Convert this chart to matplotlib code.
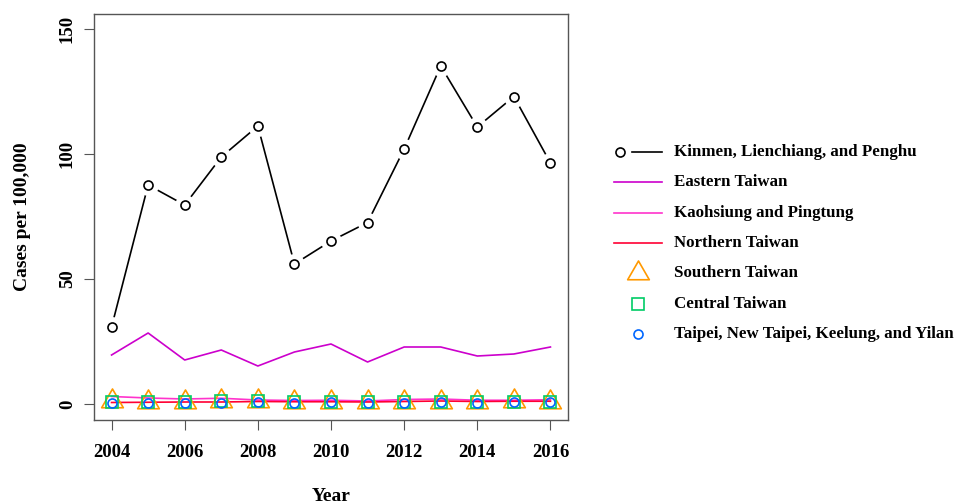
import matplotlib
matplotlib.use("Agg")
import matplotlib.pyplot as plt
from matplotlib.lines import Line2D
from matplotlib.path import Path

plt.rcParams['font.family'] = ['Liberation Serif', 'DejaVu Serif']
plt.rcParams['font.weight'] = 'bold'

years = list(range(2004, 2017))

kinmen = [30.8, 87.6, 79.6, 98.8, 111.2, 56.0, 65.2, 72.6, 102.0, 135.2, 110.8, 123.0, 96.4]
eastern = [19.6, 28.4, 17.6, 21.6, 15.2, 20.8, 24.0, 16.8, 22.8, 22.8, 19.2, 20.0, 22.8]
kaohsiung = [3.0, 2.4, 2.0, 2.3, 1.6, 1.4, 1.5, 1.2, 1.8, 2.0, 1.5, 1.5, 1.7]
northern = [0.6, 0.7, 0.8, 0.8, 1.0, 0.9, 0.9, 0.8, 1.0, 1.2, 1.0, 1.1, 1.1]
southern = [1.2, 0.9, 1.0, 1.2, 1.3, 0.8, 1.0, 0.8, 0.9, 1.0, 0.8, 1.2, 0.9]
central = [1.0, 0.9, 1.0, 1.1, 1.2, 0.9, 0.8, 0.7, 1.0, 0.9, 0.8, 1.0, 0.9]
taipei = [0.4, 0.5, 0.6, 0.6, 0.9, 0.6, 0.7, 0.4, 0.6, 0.8, 0.6, 1.0, 0.7]

labels = ["Kinmen, Lienchiang, and Penghu", "Eastern Taiwan", "Kaohsiung and Pingtung",
          "Northern Taiwan", "Southern Taiwan", "Central Taiwan",
          "Taipei, New Taipei, Keelung, and Yilan"]
colors = ["black", "#CC00CC", "#FF33CC", "#FF0033", "#FF9900", "#00CC66", "#0066FF"]

# triangle centred on its centroid, like R's pch = 2
tri = Path([(0, 1), (-0.866, -0.5), (0.866, -0.5), (0, 1)],
           [Path.MOVETO, Path.LINETO, Path.LINETO, Path.CLOSEPOLY])

W, H = 957, 504
fig = plt.figure(figsize=(W / 100, H / 100), dpi=100)
ax = fig.add_axes([94 / W, 1 - 420 / H, 474 / W, 406 / H])

# type="b" style: line broken around each point
ax.plot(years, kinmen, color=colors[0], lw=1.2, zorder=2)
ax.plot(years, kinmen, ls='none', marker='o', ms=15, mfc='white', mec='none', zorder=3)
ax.plot(years, kinmen, ls='none', marker='o', ms=6.5, mfc='none', mec=colors[0], mew=1.2, zorder=4)

ax.plot(years, eastern, color=colors[1], lw=1.2)
ax.plot(years, kaohsiung, color=colors[2], lw=1.2)
ax.plot(years, northern, color=colors[3], lw=1.2)
ax.plot(years, southern, ls='none', marker=tri, ms=18, mfc='none', mec=colors[4], mew=1.2)
ax.plot(years, central, ls='none', marker='s', ms=9, mfc='none', mec=colors[5], mew=1.2)
ax.plot(years, taipei, ls='none', marker='o', ms=6.5, mfc='none', mec=colors[6], mew=1.2)

ax.set_xlim(2003.52, 2016.48)
ax.set_ylim(-6.4, 156)
ax.set_xticks(range(2004, 2017, 2))
ax.set_yticks([0, 50, 100, 150])
ax.set_yticklabels(['0', '50', '100', '150'], rotation=90, va='center')
ax.tick_params(direction='out', length=7, color='#555555', labelsize=13.5)
ax.tick_params(axis='x', pad=10)
ax.tick_params(axis='y', pad=6)
for s in ax.spines.values():
    s.set_color('#555555')
    s.set_linewidth(1.0)

ax.set_xlabel("Year", fontsize=14, fontweight='bold', labelpad=20)
ax.set_ylabel("Cases per 100,000", fontsize=14, fontweight='bold', labelpad=20)

# legend to the right of the plot, laid out in pixel positions
def fx(px):
    return px / W

def fy(py):
    return 1 - py / H

row_y = [152 + 30.3 * i for i in range(len(labels))]
for i, (lab, col, y) in enumerate(zip(labels, colors, row_y)):
    if i == 0:
        fig.add_artist(Line2D([fx(632), fx(662)], [fy(y), fy(y)], color=col, lw=1.2,
                              transform=fig.transFigure))
        fig.add_artist(Line2D([fx(620)], [fy(y)], ls='none', marker='o', ms=6.5, mfc='none',
                              mec=col, mew=1.2, transform=fig.transFigure))
    elif i <= 3:
        fig.add_artist(Line2D([fx(614), fx(662)], [fy(y), fy(y)], color=col, lw=1.2,
                              transform=fig.transFigure))
    else:
        mk, ms = {4: (tri, 18), 5: ('s', 9), 6: ('o', 6.5)}[i]
        fig.add_artist(Line2D([fx(638)], [fy(y)], ls='none', marker=mk, ms=ms, mfc='none',
                              mec=col, mew=1.2, transform=fig.transFigure))
    fig.text(fx(674), fy(y), lab, fontsize=12.2, fontweight='bold', va='center', ha='left')

fig.savefig("out.png", dpi=100)
